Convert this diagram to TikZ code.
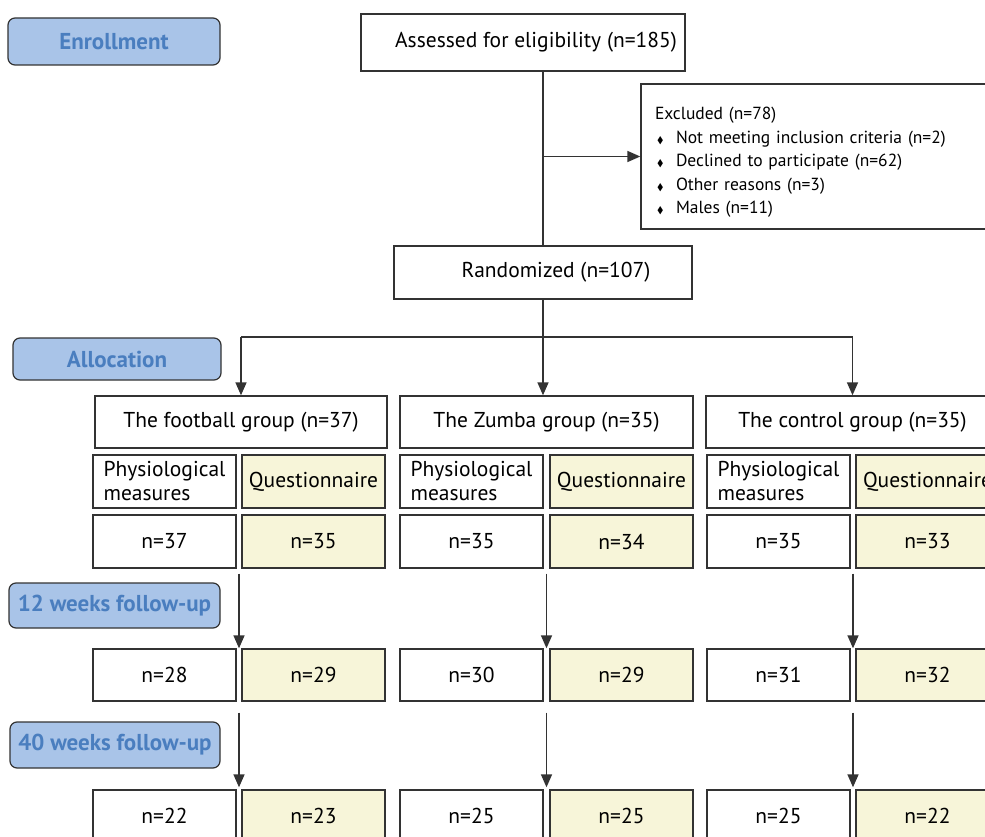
\documentclass[tikz,border=0pt]{standalone}
\usepackage{amssymb}
\usepackage{fontspec}
\setmainfont{PT Sans}
\usetikzlibrary{arrows.meta,calc}

\definecolor{stagefill}{HTML}{A9C4E8}
\definecolor{stagetext}{HTML}{4A7EBF}
\definecolor{qfill}{HTML}{F7F5D9}
\definecolor{linegray}{HTML}{333333}

\newcommand{\exdot}{\makebox[21pt][l]{\hspace{2pt}\scalebox{0.55}{$\blacklozenge$}}}

\tikzset{
  stage/.style={draw=linegray, line width=1.2pt, rounded corners=7pt, fill=stagefill,
    text=stagetext, font=\fontsize{23}{27}\selectfont\bfseries, inner sep=0pt},
  box/.style={draw=linegray, line width=1.4pt, fill=white, inner sep=0pt,
    font=\fontsize{21.5}{24}\selectfont},
  qbox/.style={box, fill=qfill},
  arr/.style={line width=1.6pt, draw=linegray, -{Triangle[width=11pt,length=13pt]}},
  conn/.style={line width=1.6pt, draw=linegray},
}

\begin{document}
\begin{tikzpicture}[x=1pt,y=-1pt]
  \useasboundingbox (0,0) rectangle (985,837);
  \clip (0,0) rectangle (985,837);

  % stages on the left
  \node[stage, minimum width=212pt, minimum height=47pt] (enroll) at (114,41.5) {Enrollment};
  \node[stage, minimum width=208pt, minimum height=42pt] (alloc) at (117,359) {Allocation};
  \node[stage, minimum width=211pt, minimum height=45pt] (fu12) at (114.5,605.5) {12 weeks follow-up};
  \node[stage, minimum width=210pt, minimum height=46pt] (fu40) at (115,745) {40 weeks follow-up};

  % enrollment
  \node[box, minimum width=324pt, minimum height=57pt] (assess) at (523,42.5) {\hspace*{26pt}Assessed for eligibility (n=185)};
  \node[box, minimum width=383pt, minimum height=145pt, text width=355pt, inner xsep=14pt,
    align=left, font=\fontsize{17.5}{23.5}\selectfont] (excl) at (832.5,156.5)
    {\rule{0pt}{24pt}Excluded (n=78)\\
     \exdot Not meeting inclusion criteria (n=2)\\
     \exdot Declined to participate (n=62)\\
     \exdot Other reasons (n=3)\\
     \exdot Males (n=11)};
  \node[box, minimum width=298pt, minimum height=53pt] (rand) at (543,272.5) {\hspace*{26pt}Randomized (n=107)};

  % groups
  \node[box, minimum width=292pt, minimum height=52pt] (g1) at (241,422) {The football group (n=37)};
  \node[box, minimum width=293pt, minimum height=52pt] (g2) at (546.5,422) {The Zumba group (n=35)};
  \node[box, minimum width=293pt, minimum height=52pt] (g3) at (852.5,422) {The control group (n=35)};

  \node[box, minimum width=143pt, minimum height=53pt, align=left] (h1p) at (164.5,481.5) {Physiological\\measures};
  \node[qbox, minimum width=143pt, minimum height=53pt] (h1q) at (313.5,481.5) {Questionnaire};
  \node[box, minimum width=143pt, minimum height=53pt, align=left] (h2p) at (471.5,481.5) {Physiological\\measures};
  \node[qbox, minimum width=143pt, minimum height=53pt] (h2q) at (621.5,481.5) {Questionnaire};
  \node[box, minimum width=143pt, minimum height=53pt, align=left] (h3p) at (778.5,481.5) {Physiological\\measures};
  \node[qbox, minimum width=143pt, minimum height=53pt] (h3q) at (927.5,481.5) {Questionnaire};

  % baseline
  \node[box, minimum width=143pt, minimum height=53pt] (b1p) at (164.5,541.5) {n=37};
  \node[qbox, minimum width=143pt, minimum height=53pt] (b1q) at (313.5,541.5) {n=35};
  \node[box, minimum width=143pt, minimum height=53pt] (b2p) at (471.5,541.5) {n=35};
  \node[qbox, minimum width=143pt, minimum height=53pt] (b2q) at (621.5,541.5) {n=34};
  \node[box, minimum width=143pt, minimum height=53pt] (b3p) at (778.5,541.5) {n=35};
  \node[qbox, minimum width=143pt, minimum height=53pt] (b3q) at (927.5,541.5) {n=33};

  % 12 weeks
  \node[box, minimum width=143pt, minimum height=52pt] (f1p) at (164.5,675) {n=28};
  \node[qbox, minimum width=143pt, minimum height=52pt] (f1q) at (313.5,675) {n=29};
  \node[box, minimum width=143pt, minimum height=52pt] (f2p) at (471.5,675) {n=30};
  \node[qbox, minimum width=143pt, minimum height=52pt] (f2q) at (621.5,675) {n=29};
  \node[box, minimum width=143pt, minimum height=52pt] (f3p) at (778.5,675) {n=31};
  \node[qbox, minimum width=143pt, minimum height=52pt] (f3q) at (927.5,675) {n=32};

  % 40 weeks
  \node[box, minimum width=143pt, minimum height=52pt] (l1p) at (164.5,816) {n=22};
  \node[qbox, minimum width=143pt, minimum height=52pt] (l1q) at (313.5,816) {n=23};
  \node[box, minimum width=143pt, minimum height=52pt] (l2p) at (471.5,816) {n=25};
  \node[qbox, minimum width=143pt, minimum height=52pt] (l2q) at (621.5,816) {n=25};
  \node[box, minimum width=143pt, minimum height=52pt] (l3p) at (778.5,816) {n=25};
  \node[qbox, minimum width=143pt, minimum height=52pt] (l3q) at (927.5,816) {n=22};

  % connectors
  \draw[conn] (rand.north) -- (rand.north |- assess.south);
  \draw[arr] (rand.north |- excl.west) -- (excl.west);
  \coordinate (split) at (543,337);
  \draw[conn] (rand.south) -- (split);
  \draw[conn] (g1.north |- split) -- (g3.north |- split);
  \draw[arr] (g1.north |- split) -- (g1.north);
  \draw[arr] (split) -- (split |- g2.north);
  \draw[arr] (g3.north |- split) -- (g3.north);

  \draw[arr] ($(b1p.south east)!.5!(b1q.south west)+(0,5)$) -- ($(f1p.north east)!.5!(f1q.north west)$);
  \draw[arr] ($(b2p.south east)!.5!(b2q.south west)+(0,5)$) -- ($(f2p.north east)!.5!(f2q.north west)$);
  \draw[arr] ($(b3p.south east)!.5!(b3q.south west)+(0,5)$) -- ($(f3p.north east)!.5!(f3q.north west)$);
  \draw[arr] ($(f1p.south east)!.5!(f1q.south west)+(0,11)$) -- ($(l1p.north east)!.5!(l1q.north west)+(0,-2)$);
  \draw[arr] ($(f2p.south east)!.5!(f2q.south west)+(0,11)$) -- ($(l2p.north east)!.5!(l2q.north west)+(0,-2)$);
  \draw[arr] ($(f3p.south east)!.5!(f3q.south west)+(0,11)$) -- ($(l3p.north east)!.5!(l3q.north west)+(0,-2)$);
\end{tikzpicture}
\end{document}
